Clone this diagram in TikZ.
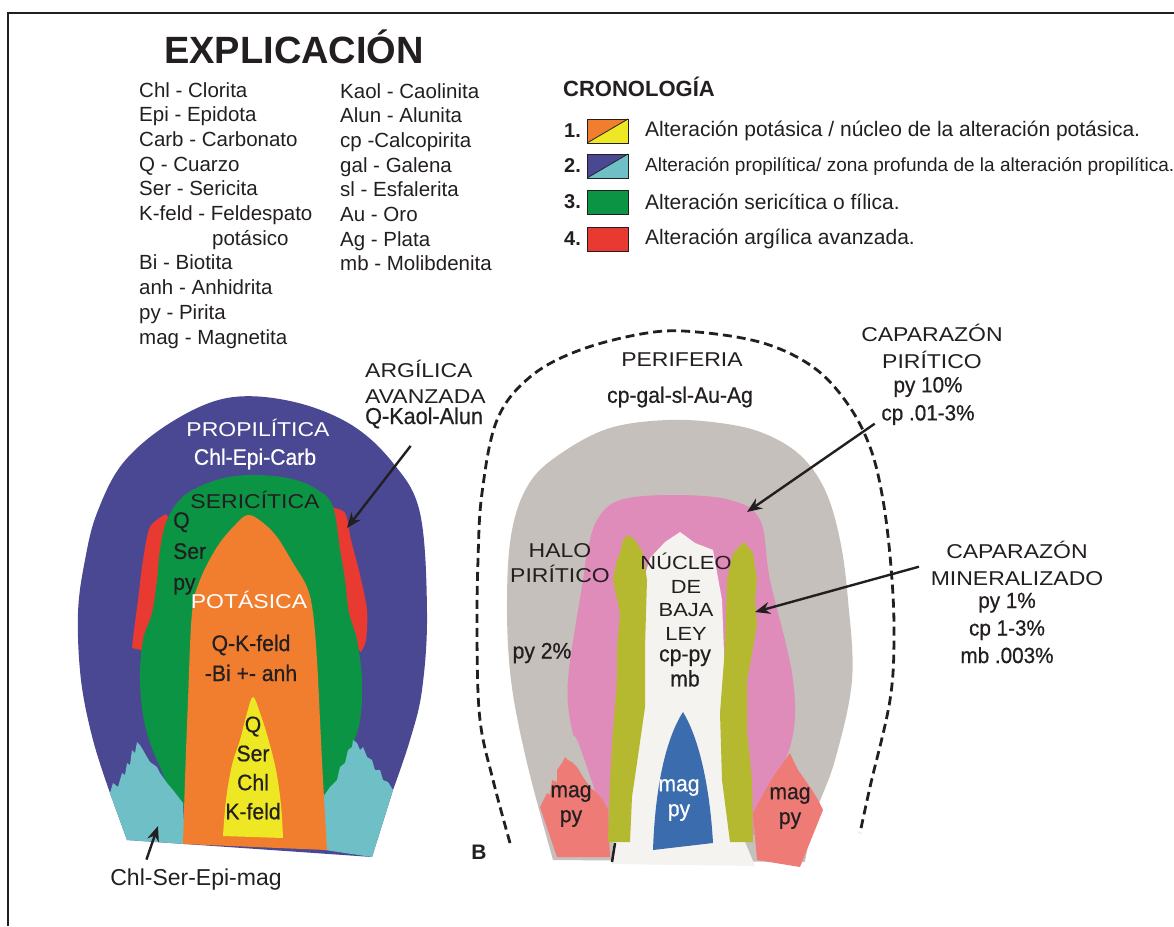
\documentclass[tikz,border=0pt]{standalone}
\usepackage{fontspec}
\setmainfont{Liberation Sans}
\newfontfamily\widefont[FakeStretch=1.15]{Liberation Sans}
\newfontfamily\narrowfont[FakeStretch=0.94,FakeBold=0.6]{Liberation Sans}
\usetikzlibrary{arrows.meta}
\definecolor{ink}{HTML}{231F20}
\definecolor{propil}{HTML}{4B4893}
\definecolor{propcian}{HTML}{6FC0C6}
\definecolor{seric}{HTML}{0C9445}
\definecolor{argil}{HTML}{E83A30}
\definecolor{potas}{HTML}{F07E2E}
\definecolor{nucleo}{HTML}{EEE824}
\definecolor{periferia}{HTML}{C5C0BB}
\definecolor{halo}{HTML}{E08CBA}
\definecolor{oliva}{HTML}{B5B930}
\definecolor{bajaley}{HTML}{F5F3F0}
\definecolor{magazul}{HTML}{3B6DAE}
\definecolor{magrosa}{HTML}{EF7B77}

\begin{document}
\begin{tikzpicture}[x=1pt,y=-1pt,
  lbl/.style={text=ink,inner sep=0pt,font=\narrowfont\fontsize{22.5}{25}\selectfont},
  geo/.style={text=ink,inner sep=0pt,align=center,font=\widefont\fontsize{20}{27}\selectfont},
  key/.style={text=ink,inner sep=0pt,anchor=west,font=\fontsize{21}{24}\selectfont},
  num/.style={text=ink,inner sep=0pt,anchor=west,font=\bfseries\fontsize{20}{24}\selectfont},
  swatch/.style={draw=ink,line width=0.8pt},
  arr/.style={-{Stealth[length=15pt,width=12pt]},line width=2.4pt,draw=ink},
  borde/.style={dash pattern=on 9pt off 5pt,line width=2.8pt,draw=ink}]
\useasboundingbox (0,0) rectangle (1174,926);
\draw[line width=2pt,ink] (8,926) -- (8,13) -- (1174,13);

\node[anchor=west,text=ink,inner sep=0pt,font=\bfseries\fontsize{38}{40}\selectfont] (titulo) at (164,47) {EXPLICACIÓN};
\node[key,anchor=north west,align=left,font=\fontsize{20.5}{24.7}\selectfont] (abrev1) at (139,82) {Chl - Clorita\\Epi - Epidota\\Carb - Carbonato\\Q - Cuarzo\\Ser - Sericita\\K-feld - Feldespato\\\hspace*{73pt}potásico\\Bi - Biotita\\anh - Anhidrita\\py - Pirita\\mag - Magnetita};
\node[key,anchor=north west,align=left,font=\fontsize{20.5}{24.7}\selectfont] (abrev2) at (340,83) {Kaol - Caolinita\\Alun - Alunita\\cp -Calcopirita\\gal - Galena\\sl - Esfalerita\\Au - Oro\\Ag - Plata\\mb - Molibdenita};

\node[num,font=\bfseries\fontsize{22}{24}\selectfont] (crono) at (563,87) {CRONOLOGÍA};
\node[num] (n1) at (564,131) {1.};
\node[num] (n2) at (564,166) {2.};
\node[num] (n3) at (564,202) {3.};
\node[num] (n4) at (564,239) {4.};
\fill[potas] (587,143) -- (587,119) -- (628,119) -- cycle;
\fill[nucleo] (587,143) -- (628,143) -- (628,119) -- cycle;
\draw[swatch] (587,119) rectangle (628,143);
\draw[swatch] (587,143) -- (628,119);
\fill[propil] (587,178) -- (587,154) -- (628,154) -- cycle;
\fill[propcian] (587,178) -- (628,178) -- (628,154) -- cycle;
\draw[swatch] (587,154) rectangle (628,178);
\draw[swatch] (587,178) -- (628,154);
\draw[swatch,fill=seric] (587,190) rectangle (628,214);
\draw[swatch,fill=argil] (587,227) rectangle (628,251);
\node[key] (c1) at (645,131) {Alteración potásica / núcleo de la alteración potásica.};
\node[key,font=\fontsize{19}{23}\selectfont] (c2) at (645,166) {Alteración propilítica/ zona profunda de la alteración propilítica.};
\node[key] (c3) at (645,202) {Alteración sericítica o fílica.};
\node[key] (c4) at (645,239) {Alteración argílica avanzada.};

\fill[propil] plot[smooth,tension=0.6] coordinates {(110,793) (93,740) (81,680) (78,613) (85,560) (97,513) (123,463) (170,423) (227,398) (290,401) (350,424) (393,463) (420,513) (427,613) (422,690) (410,740) (393,790)} -- (372,857) -- (127,840) -- cycle;
\fill[argil] plot[smooth] coordinates {(166,514) (150,527) (143,560) (138,600) (134,630) (132,648)} -- (150,652) -- (162,600) -- (170,520) -- cycle;
\fill[argil] plot[smooth] coordinates {(330,507) (345,513) (351,540) (360,575) (367,610) (366,640) (361,652)} -- (345,640) -- (335,520) -- cycle;
\fill[seric] plot[smooth cycle,tension=0.6] coordinates {(183,807) (160,767) (145,725) (140,680) (143,640) (152,613) (157,580) (160,550) (167,520) (185,495) (220,479) (255,475) (292,479) (318,490) (333,507) (340,550) (345,580) (349,613) (357,640) (362,680) (360,720) (350,750) (323,803) (250,815)};
\fill[propcian] (110,793) -- (113,783) -- (118,787) -- (122,773) -- (125,775) -- (127,763) -- (130,765) -- (132,750) -- (135,753) -- (137,742) -- (140,745) -- (143,750) -- (147,757) -- (150,762) -- (157,767) -- (160,773) -- (167,783) -- (173,790) -- (183,803) -- (185,844) -- (127,840) -- cycle;
\fill[propcian] (321,800) -- (330,787) -- (337,780) -- (340,767) -- (345,763) -- (348,750) -- (352,747) -- (353,740) -- (357,743) -- (360,750) -- (363,747) -- (367,757) -- (372,760) -- (375,770) -- (380,770) -- (383,780) -- (388,782) -- (393,790) -- (372,857) -- (325,850) -- cycle;
\fill[potas] plot[smooth,tension=0.6] coordinates {(183,844) (185,780) (188,700) (192,613) (200,580) (217,547) (235,525) (248,515) (262,522) (277,537) (293,563) (307,587) (313,613) (317,660) (320,720) (323,780) (327,850)} -- cycle;
\fill[nucleo] plot[smooth,tension=0.6] coordinates {(223,836) (226,800) (232,765) (240,740) (247,713) (253,697) (260,713) (268,738) (276,770) (281,805) (283,838)} -- cycle;

\node[geo,text=white] (propi) at (258,428) {PROPILÍTICA};
\node[lbl,text=white] (propimin) at (255,459) {Chl-Epi-Carb};
\node[geo] (seri) at (255,500) {SERICÍTICA};
\node[lbl,anchor=north west,align=left,font=\narrowfont\fontsize{22.5}{31}\selectfont] (serimin) at (173,512) {Q\\Ser\\py};
\node[geo,text=white] (pota) at (249,600) {POTÁSICA};
\node[lbl,align=center,font=\narrowfont\fontsize{22.5}{30}\selectfont] (potamin) at (251,658) {Q-K-feld\\-Bi +- anh};
\node[lbl,align=center,font=\narrowfont\fontsize{22.5}{29}\selectfont] (nucmin) at (253,768) {Q\\Ser\\Chl\\K-feld};
\node[geo,anchor=base west] (argtit) at (365,377) {ARGÍLICA};
\node[geo,anchor=base west] (argtit2) at (365,403) {AVANZADA};
\node[lbl,anchor=base west,font=\narrowfont\fontsize{23}{25}\selectfont] (qkaol) at (365,424) {Q-Kaol-Alun};
\node[lbl,font=\fontsize{23}{26}\selectfont] (chlser) at (196,880) {Chl-Ser-Epi-mag};
\coordinate (argtip) at (347,528);
\coordinate (chltip) at (158,826);
\draw[arr,shorten <=22pt] (qkaol.south) -- (argtip);
\draw[arr,shorten <=10pt] ([xshift=33pt]chlser.north west) -- (chltip);

\fill[periferia] plot[smooth,tension=0.6] coordinates {(553,860) (527,763) (511,680) (507,600) (512,530) (530,482) (563,452) (610,428) (667,420) (720,423) (763,433) (800,455) (825,490) (840,540) (848,600) (852,680) (835,760) (815,815) (805,862)} -- cycle;
\fill[halo] plot[smooth,tension=0.6] coordinates {(610,835) (580,747) (572,730) (568,680) (583,580) (587,553) (597,520) (620,500) (673,495) (730,500) (760,520) (770,580) (793,680) (790,747) (757,807) (755,835)} -- cycle;
\fill[bajaley] (612,864) -- (616,800) -- (622,740) -- (630,680) -- (640,620) -- (645,575) -- (650,558) -- (665,542) -- (680,532) -- (695,543) -- (713,550) -- (722,600) -- (725,680) -- (730,760) -- (745,842) -- (755,866) -- cycle;
\fill[magrosa] (540,807) -- (547,793) -- (550,795) -- (552,780) -- (557,782) -- (557,770) -- (562,763) -- (565,757) -- (568,760) -- (572,762) -- (577,767) -- (583,777) -- (590,787) -- (597,793) -- (603,800) -- (608,810) -- (610,857) -- (557,857) -- cycle;
\fill[magrosa] (757,860) -- (753,813) -- (760,800) -- (767,787) -- (773,777) -- (780,767) -- (785,760) -- (790,753) -- (793,760) -- (798,770) -- (805,780) -- (812,790) -- (818,800) -- (823,810) -- (800,867) -- cycle;
\fill[oliva] (608,842) -- (610,780) -- (613,730) -- (617,680) -- (617,647) -- (620,613) -- (613,580) -- (617,560) -- (620,553) -- (623,540) -- (628,535) -- (635,540) -- (643,553) -- (647,580) -- (645,647) -- (645,707) -- (637,763) -- (632,797) -- (630,842) -- cycle;
\fill[oliva] (730,842) -- (722,780) -- (720,713) -- (725,647) -- (727,580) -- (733,553) -- (738,548) -- (743,542) -- (748,547) -- (753,553) -- (757,580) -- (755,600) -- (757,623) -- (755,637) -- (747,680) -- (747,730) -- (752,780) -- (753,842) -- cycle;
\fill[magazul] (653,850) .. controls (655,790) and (665,740) .. (683,712) .. controls (700,740) and (710,790) .. (713,843) -- cycle;
\draw[borde] plot[smooth,tension=0.6] coordinates {(510,843) (493,780) (480,720) (477,640) (478,560) (482,493) (497,420) (530,377) (580,350) (647,333) (697,332) (763,343) (813,367) (847,403) (870,447) (883,500) (891,567) (894,633) (890,700) (870,787) (860,833)};
\draw[line width=2.5pt,ink] (615,843) -- (612,862);

\node[geo] (perif) at (682,360) {PERIFERIA};
\node[lbl] (perifmin) at (680,397) {cp-gal-sl-Au-Ag};
\node[geo,font=\widefont\fontsize{20}{25}\selectfont] (halotit) at (560,563) {HALO\\PIRÍTICO};
\node[lbl] (halopy) at (542,653) {py 2\%};
\node[geo,font=\widefont\fontsize{19}{23.5}\selectfont] (nucbaja) at (686,597) {NÚCLEO\\DE\\BAJA\\LEY};
\node[lbl,align=center] (nucbajamin) at (685,668) {cp-py\\mb};
\node[lbl,align=center] (magizq) at (571,806) {mag\\py};
\node[lbl,align=center,text=white] (magcen) at (679,800) {mag\\py};
\node[lbl,align=center] (magder) at (790,808) {mag\\py};
\node[text=ink,inner sep=0pt,font=\bfseries\fontsize{21}{22}\selectfont] (panelb) at (479,852) {B};
\node[geo] (capa1) at (932,346.5) {CAPARAZÓN\\PIRÍTICO};
\node[lbl,align=center,font=\narrowfont\fontsize{22}{28}\selectfont] (capa1min) at (928,401) {py 10\%\\cp .01-3\%};
\node[geo] (capa2) at (1017,563.5) {CAPARAZÓN\\MINERALIZADO};
\node[lbl,align=center,font=\narrowfont\fontsize{22}{27.5}\selectfont] (capa2min) at (1007,628) {py 1\%\\cp 1-3\%\\mb .003\%};
\coordinate (piritip) at (747,512);
\coordinate (minetip) at (755,612);
\draw[arr,shorten <=8pt] ([yshift=6pt]capa1min.south west) -- (piritip);
\draw[arr,shorten <=12pt] (capa2.west) -- (minetip);
\end{tikzpicture}
\end{document}
